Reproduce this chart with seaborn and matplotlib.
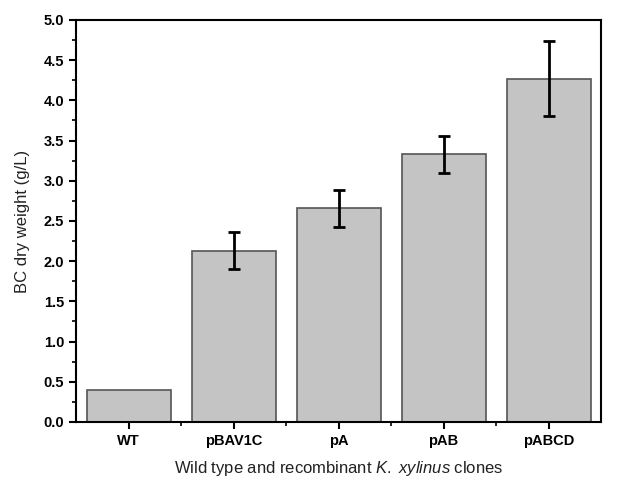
import matplotlib
matplotlib.use("Agg")
import matplotlib.pyplot as plt
import seaborn as sns
import pandas as pd
from matplotlib.ticker import MultipleLocator

categories = ["WT", "pBAV1C", "pA", "pAB", "pABCD"]
values = [0.40, 2.13, 2.66, 3.33, 4.27]
errors = [0.0, 0.23, 0.23, 0.23, 0.47]

sns.set_theme(style="white")
plt.rcParams['font.family'] = ['Liberation Sans', 'DejaVu Sans']
plt.rcParams['mathtext.fontset'] = 'custom'
plt.rcParams['mathtext.rm'] = 'Liberation Sans'
plt.rcParams['mathtext.it'] = 'Liberation Sans:italic'

df = pd.DataFrame({"clone": categories, "weight": values})

fig = plt.figure(figsize=(6.18, 4.87), dpi=100)
ax = fig.add_axes([0.123, 0.1335, 0.8495, 0.8255])

sns.barplot(data=df, x="clone", y="weight", color="#c4c4c4", saturation=1,
            edgecolor="#555555", linewidth=1.2, width=0.8, errorbar=None, ax=ax)

xs = list(range(len(categories)))
err_x = [x for x, e in zip(xs, errors) if e > 0]
err_y = [v for v, e in zip(values, errors) if e > 0]
err_e = [e for e in errors if e > 0]
ax.errorbar(err_x, err_y, yerr=err_e, fmt="none", ecolor="black",
            elinewidth=2, capsize=4, capthick=2)

ax.set_xlim(-0.5, 4.5)
ax.set_ylim(0, 5.0)
ax.yaxis.set_major_locator(MultipleLocator(0.5))
ax.yaxis.set_minor_locator(MultipleLocator(0.25))
ax.set_xticks(xs)
ax.set_xticks([x + 0.5 for x in xs[:-1]], minor=True)
ax.yaxis.set_major_formatter(matplotlib.ticker.FormatStrFormatter("%.1f"))

for s in ax.spines.values():
    s.set_visible(True)
    s.set_color("black")
    s.set_linewidth(1.5)

ax.tick_params(axis="both", which="major", direction="out", length=5, width=1.5,
               colors="black", labelsize=10.5, bottom=True, left=True, top=False, right=False)
ax.tick_params(axis="both", which="minor", direction="out", length=3, width=1.2,
               colors="black", bottom=True, left=True, top=False, right=False)
for lab in ax.get_xticklabels() + ax.get_yticklabels():
    lab.set_fontweight("bold")
    lab.set_color("black")

ax.set_ylabel("BC dry weight (g/L)", fontsize=12, color="#222222", labelpad=10)
ax.set_xlabel("Wild type and recombinant $\\it{K.}$ $\\it{xylinus}$ clones", fontsize=12,
              color="#222222", labelpad=8)

fig.savefig("out.png", dpi=100, facecolor="white")
